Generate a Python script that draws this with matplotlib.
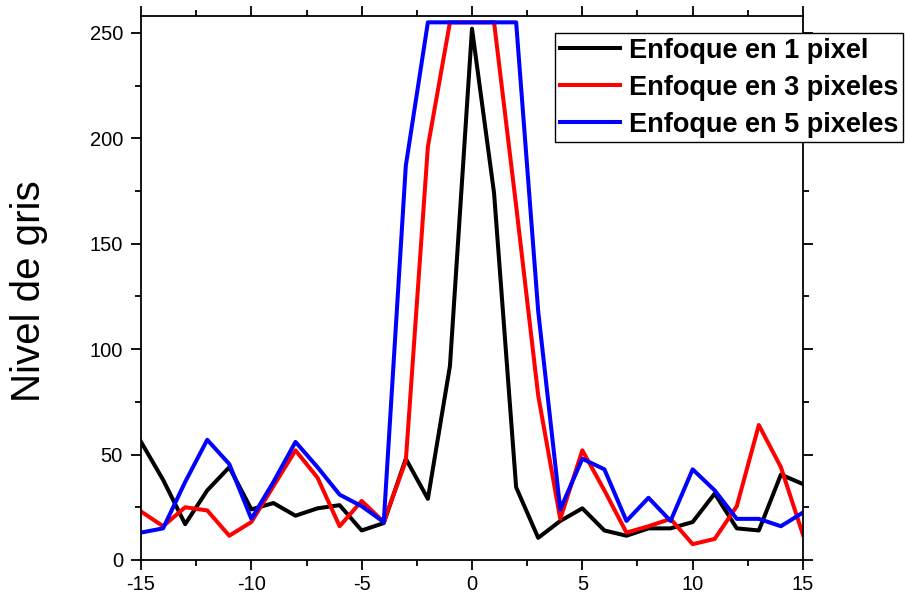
import numpy as np
import matplotlib.pyplot as plt
from matplotlib.ticker import MultipleLocator

plt.rcParams['font.family'] = ['Liberation Sans', 'DejaVu Sans']
plt.rcParams['axes.unicode_minus'] = False

# posición del píxel respecto al centro
pos = list(range(-15, 16))

# perfiles de nivel de gris
gris_1px = [56, 38, 17, 33, 44, 24, 27, 21, 24.5, 26, 14, 17.5,
            48, 29, 92, 252, 174, 34.5, 10.5, 18.5, 24.5, 14, 11.5,
            15, 15, 18, 31.5, 15, 14, 40.5, 36]
gris_3px = [23, 16, 25, 23.5, 11.5, 18, 35, 52, 39, 16, 28, 18,
            47, 196, 255, 255, 255, 168, 78, 19.5, 52, 33, 13, 16,
            19.5, 7.5, 10, 25.5, 64, 44, 12]
gris_5px = [13, 15, 37, 57, 45.5, 19.5, 37, 56, 44, 31, 25.5, 18,
            187, 255, 255, 255, 255, 255, 118, 24, 48, 43, 18.5, 29.5,
            18.5, 43, 33, 19.5, 19.5, 16, 22.5]

etiquetas = ['Enfoque en 1 pixel', 'Enfoque en 3 pixeles', 'Enfoque en 5 pixeles']

fig = plt.figure(figsize=(9.07, 6), dpi=100)
ax = fig.add_axes([0.1555, 0.0667, 0.7298, 0.9066])

l1, = ax.plot(pos, gris_1px, color='black', linewidth=2.9)
l2, = ax.plot(pos, gris_3px, color='#ff0000', linewidth=2.9)
l3, = ax.plot(pos, gris_5px, color='#0000ff', linewidth=2.9)

ax.set_xlim(-15, 15)
ax.set_ylim(0, 258)
ax.xaxis.set_major_locator(MultipleLocator(5))
ax.xaxis.set_minor_locator(MultipleLocator(2.5))
ax.yaxis.set_major_locator(MultipleLocator(50))
ax.yaxis.set_minor_locator(MultipleLocator(25))

ax.tick_params(which='both', direction='out', top=True, right=True,
               width=1.3, labelsize=14.5)
ax.tick_params(which='major', length=7)
ax.tick_params(which='minor', length=4)
ax.tick_params(axis='y', which='major', pad=6)
for s in ax.spines.values():
    s.set_linewidth(1.3)

ax.set_ylabel('Nivel de gris', fontsize=29)
ax.yaxis.set_label_coords(-0.14, 0.494)

leg = fig.legend(handles=[l1, l2, l3], labels=etiquetas,
                 loc='upper right', bbox_to_anchor=(903 / 907, 1 - 33 / 600),
                 prop={'weight': 'bold', 'size': 19.5},
                 frameon=True, fancybox=False, framealpha=1,
                 edgecolor='black', handlelength=2.2, handletextpad=0.34,
                 labelspacing=0.4, borderpad=0.18, borderaxespad=0)
leg.get_frame().set_linewidth(1.0)

fig.savefig('out.png', dpi=100)
